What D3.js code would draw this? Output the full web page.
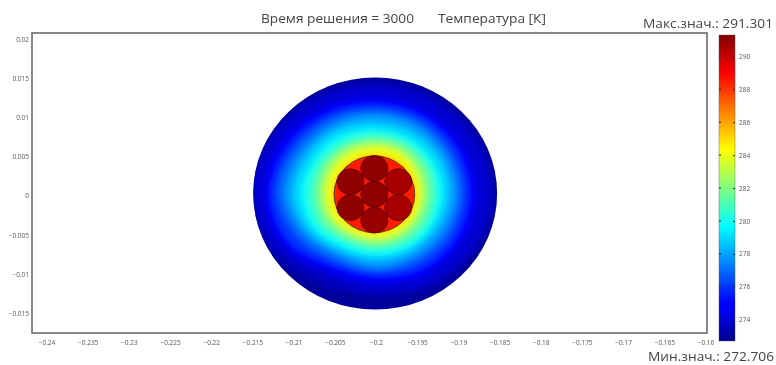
<!DOCTYPE html>
<html>
<head>
<meta charset="utf-8">
<script src="https://cdnjs.cloudflare.com/ajax/libs/d3/7.8.5/d3.min.js"></script>
<style>
  html, body { margin: 0; background: #fff; }
  text { font-family: "Open Sans", sans-serif; }
  .tick text { font-size: 6.5px; fill: #555; }
</style>
</head>
<body>
<div id="chart"></div>
<script>
// tick labels
var xTicks = [-0.24, -0.235, -0.23, -0.225, -0.22, -0.215, -0.21, -0.205, -0.2, -0.195, -0.19, -0.185, -0.18, -0.175, -0.17, -0.165, -0.16];
var yTicks = [0.02, 0.015, 0.01, 0.005, 0, -0.005, -0.01, -0.015];
var tempTicks = [274, 276, 278, 280, 282, 284, 286, 288, 290];

var tempMin = 272.706, tempMax = 291.301;

// domain geometry in metres
var discCentre = [-0.2001, 0.0003];
var discRadius = 0.0148;
var cableCentre = [-0.2002, 0.0002];
var cableRadius = 0.0049;
var cableTemp = 288.5;
var wireRadius = 0.00165;
var wireX = [-0.2002, -0.2002, -0.2002, -0.2031, -0.2031, -0.1973, -0.1973];
var wireY = [0.0002, 0.0035, -0.0031, 0.0018, -0.0015, 0.0018, -0.0015];
var wireTemp = [291.0, 291.0, 290.9, 291.0, 291.0, 290.6, 290.6];

// isotherms: radius in mm from the centre, read every 30 degrees counter-clockwise from +x
var isoAngles = [0, 30, 60, 90, 120, 150, 180, 210, 240, 270, 300, 330];
var isoLevels = [273.5, 274, 275, 276, 277, 278, 279, 280, 281, 282, 283, 284, 285];
var isoRadii = [
  [14.6, 14.5, 14.4, 14.3, 14.5, 14.8, 15.0, 14.6, 13.4, 13.2, 13.8, 14.3],
  [13.8, 13.6, 13.5, 13.5, 13.8, 14.2, 14.6, 13.8, 12.3, 12.3, 13.0, 13.5],
  [12.2, 12.1, 12.1, 12.1, 12.5, 13.0, 13.4, 12.9, 11.3, 11.3, 11.9, 12.1],
  [11.3, 11.3, 11.3, 11.3, 11.6, 12.1, 12.6, 12.1, 10.5, 10.4, 11.0, 11.2],
  [10.5, 10.5, 10.6, 10.6, 10.9, 11.3, 11.8, 10.9, 9.8, 9.9, 10.1, 10.3],
  [9.8, 9.8, 9.9, 10.0, 10.1, 10.4, 10.9, 10.0, 9.0, 9.3, 9.3, 9.5],
  [8.9, 9.0, 9.0, 9.0, 9.3, 9.5, 9.9, 9.3, 8.4, 8.4, 8.5, 8.6],
  [8.1, 8.1, 8.1, 8.1, 8.4, 8.6, 8.9, 8.6, 7.8, 7.8, 7.9, 8.0],
  [7.3, 7.4, 7.5, 7.5, 7.6, 7.8, 7.9, 7.8, 7.1, 7.1, 7.3, 7.3],
  [6.6, 6.8, 6.9, 6.9, 7.0, 7.1, 7.1, 7.0, 6.6, 6.6, 6.6, 6.6],
  [6.0, 6.1, 6.4, 6.4, 6.5, 6.5, 6.5, 6.4, 6.1, 6.1, 6.1, 6.0],
  [5.5, 5.6, 5.9, 5.9, 5.9, 5.9, 5.9, 5.9, 5.6, 5.6, 5.6, 5.5],
  [5.1, 5.1, 5.2, 5.2, 5.2, 5.2, 5.2, 5.2, 5.1, 5.1, 5.1, 5.1]
];

// jet colormap
var jetStops = [0, 0.11, 0.125, 0.375, 0.625, 0.875, 1];
var jetColors = ["#00008f", "#0000ff", "#0000ff", "#00ffff", "#ffff00", "#ff0000", "#800000"];

var width = 776, height = 365;
var margin = {top: 33, right: 69, bottom: 30, left: 32};

var x = d3.scaleLinear().domain([-0.24, -0.16]).range([46.5, 705.5]);
var y = d3.scaleLinear().domain([-0.015, 0.02]).range([313.5, 39]);
var barY = d3.scaleLinear().domain([tempMin, tempMax]).range([341, 35]);
var jet = d3.scaleLinear().domain(jetStops).range(jetColors).interpolate(d3.interpolateRgb);
var tempColor = t => jet((t - tempMin) / (tempMax - tempMin));

var svg = d3.select("#chart").append("svg")
    .attr("width", width)
    .attr("height", height)
    .style("display", "block");

var defs = svg.append("defs");
defs.append("clipPath").attr("id", "disc-clip")
  .append("ellipse")
    .attr("cx", x(discCentre[0]))
    .attr("cy", y(discCentre[1]))
    .attr("rx", x(discRadius) - x(0))
    .attr("ry", y(0) - y(discRadius));

[["field-blur", 2.4], ["soft", 0.7], ["wire-blur", 0.5], ["text-blur", 0.3]].forEach(d => {
  defs.append("filter").attr("id", d[0])
      .attr("x", "-20%").attr("y", "-20%").attr("width", "140%").attr("height", "140%")
    .append("feGaussianBlur").attr("stdDeviation", d[1]);
});

var gradient = defs.append("linearGradient").attr("id", "jet-bar")
    .attr("x1", 0).attr("y1", 1).attr("x2", 0).attr("y2", 0);
gradient.selectAll("stop").data(jetStops).join("stop")
    .attr("offset", d => d)
    .attr("stop-color", (d, i) => jetColors[i]);

// plot frame
svg.append("rect")
    .attr("x", margin.left)
    .attr("y", margin.top)
    .attr("width", width - margin.left - margin.right)
    .attr("height", height - margin.top - margin.bottom - 2)
    .attr("fill", "#fff")
    .attr("stroke", "#6a6a6a")
    .attr("stroke-width", 1.6);

// temperature field, stacked isotherms from the outside in
var isoLine = d3.line()
    .x(d => x(discCentre[0] + d.r / 1000 * Math.cos(d.a * Math.PI / 180)))
    .y(d => y(discCentre[1] + d.r / 1000 * Math.sin(d.a * Math.PI / 180)))
    .curve(d3.curveCatmullRomClosed);

var discOuter = svg.append("g").attr("filter", "url(#soft)");
var disc = discOuter.append("g").attr("clip-path", "url(#disc-clip)");
disc.append("rect")
    .attr("x", margin.left).attr("y", margin.top)
    .attr("width", width - margin.left - margin.right)
    .attr("height", height - margin.top - margin.bottom - 2)
    .attr("fill", tempColor(tempMin + 0.2));

disc.append("g").attr("filter", "url(#field-blur)")
  .selectAll("path").data(isoLevels).join("path")
    .attr("d", (t, i) => isoLine(isoAngles.map((a, j) => ({a: a, r: isoRadii[i][j]}))))
    .attr("fill", t => tempColor(t));

// cable and its wires
var cable = svg.append("g").attr("filter", "url(#wire-blur)");
cable.append("ellipse")
    .attr("cx", x(cableCentre[0]))
    .attr("cy", y(cableCentre[1]))
    .attr("rx", x(cableRadius) - x(0))
    .attr("ry", y(0) - y(cableRadius))
    .attr("fill", tempColor(cableTemp))
    .attr("stroke", "#4a3a10")
    .attr("stroke-width", 0.9);

cable.selectAll(".wire").data(wireX).join("ellipse")
    .attr("class", "wire")
    .attr("cx", d => x(d))
    .attr("cy", (d, i) => y(wireY[i]))
    .attr("rx", x(wireRadius) - x(0))
    .attr("ry", y(0) - y(wireRadius))
    .attr("fill", (d, i) => tempColor(wireTemp[i]))
    .attr("stroke", "#4d0606")
    .attr("stroke-width", 0.7);

// axes
var xAxis = svg.append("g")
    .attr("transform", `translate(0,${height - margin.bottom})`)
    .attr("filter", "url(#text-blur)")
    .call(d3.axisBottom(x).tickValues(xTicks).tickSize(0).tickPadding(5).tickFormat(d3.format("")));
xAxis.select(".domain").remove();

var yAxis = svg.append("g")
    .attr("transform", `translate(${margin.left},0)`)
    .attr("filter", "url(#text-blur)")
    .call(d3.axisLeft(y).tickValues(yTicks).tickSize(0).tickPadding(3).tickFormat(d3.format("")));
yAxis.select(".domain").remove();

// colour bar
svg.append("rect")
    .attr("x", 719)
    .attr("y", barY(tempMax))
    .attr("width", 16)
    .attr("height", barY(tempMin) - barY(tempMax))
    .attr("fill", "url(#jet-bar)")
    .attr("stroke", "#555")
    .attr("stroke-width", 0.4);

var barAxis = svg.append("g")
    .attr("transform", "translate(735,0)")
    .attr("filter", "url(#text-blur)")
    .call(d3.axisRight(barY).tickValues(tempTicks).tickSizeInner(-2).tickSizeOuter(0).tickPadding(4));
barAxis.select(".domain").remove();
barAxis.selectAll("line").attr("stroke", "#222");

svg.append("g").selectAll("line").data(tempTicks).join("line")
    .attr("x1", 719).attr("x2", 721)
    .attr("y1", d => barY(d)).attr("y2", d => barY(d))
    .attr("stroke", "#222");

// headings
var headings = [
  {text: "Время решения = 3000", x: 261, y: 23, len: 153},
  {text: "Температура [К]", x: 438, y: 23, len: 108},
  {text: "Макс.знач.: 291.301", x: 643, y: 28, len: 130},
  {text: "Мин.знач.: 272.706", x: 648, y: 361, len: 126}
];
svg.append("g").attr("filter", "url(#text-blur)")
  .selectAll("text").data(headings).join("text")
    .attr("x", d => d.x)
    .attr("y", d => d.y)
    .attr("font-size", 13)
    .attr("textLength", d => d.len)
    .attr("lengthAdjust", "spacingAndGlyphs")
    .attr("fill", "#444")
    .text(d => d.text);
</script>
</body>
</html>
